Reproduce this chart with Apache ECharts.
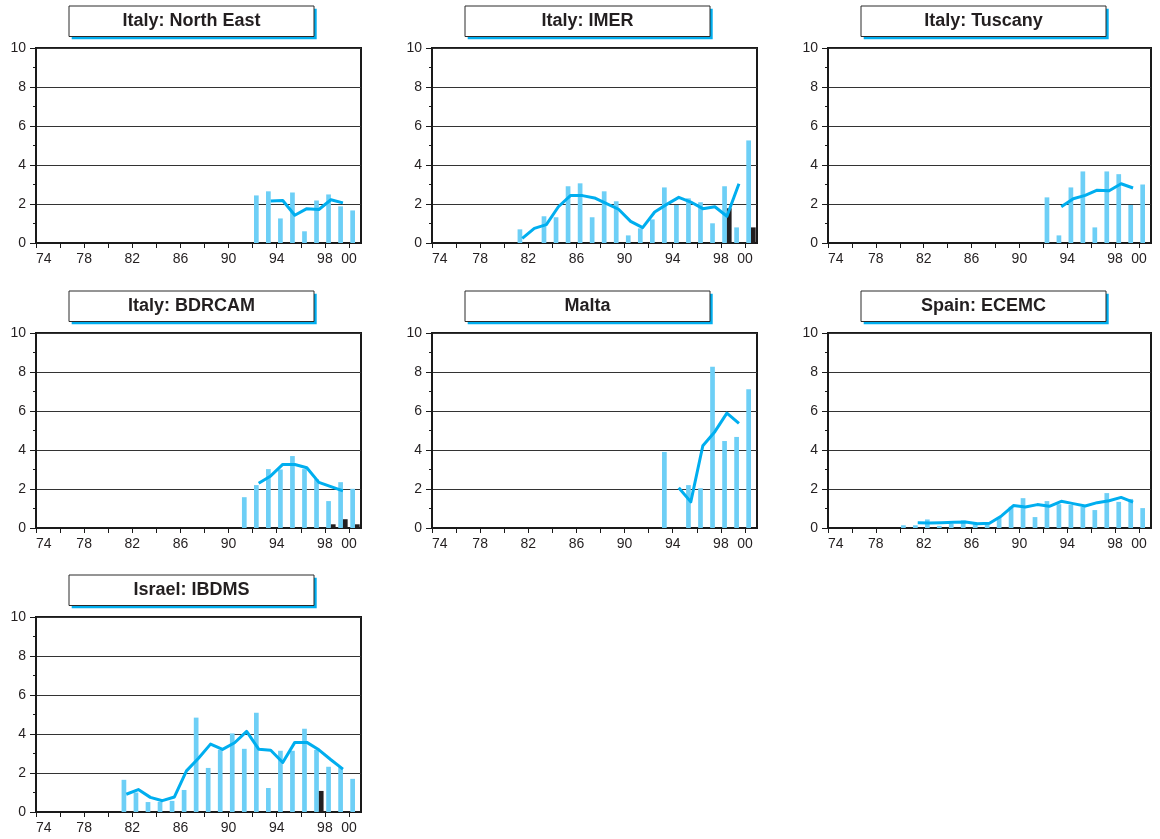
<!DOCTYPE html>
<html>
<head>
<meta charset="utf-8">
<style>
  html, body { margin: 0; padding: 0; background: #ffffff; }
  #chart { width: 1160px; height: 839px; }
</style>
<script src="https://cdn.jsdelivr.net/npm/echarts@6/dist/echarts.min.js"></script>
</head>
<body>
<div id="chart"></div>
<script>
// Calendar years covered by the registry series (index 0 = 1980)
const years = [1980, 1981, 1982, 1983, 1984, 1985, 1986, 1987, 1988, 1989, 1990,
               1991, 1992, 1993, 1994, 1995, 1996, 1997, 1998, 1999, 2000];

// Axis ticks and labels (two-digit years)
const tickYears = [1974, 1976, 1978, 1980, 1982, 1984, 1986, 1988, 1990, 1992, 1994, 1996, 1998, 2000];
const labelYears = [1974, 1978, 1982, 1986, 1990, 1994, 1998, 2000];
const rateTicks = [0, 2, 4, 6, 8, 10];

const panelTitles = ['Italy: North East', 'Italy: IMER', 'Italy: Tuscany',
                     'Italy: BDRCAM', 'Malta', 'Spain: ECEMC', 'Israel: IBDMS'];

// Italy: North East
const northEastRate = [null, null, null, null, null, null, null, null, null, null, null,
                       null, 2.44, 2.65, 1.26, 2.59, 0.60, 2.18, 2.49, 1.88, 1.67];
const northEastAvg  = [null, null, null, null, null, null, null, null, null, null, null,
                       null, null, 2.15, 2.18, 1.42, 1.76, 1.72, 2.22, 2.06, null];

// Italy: IMER
const imerRate = [null, 0.70, null, 1.37, 1.32, 2.91, 3.06, 1.32, 2.65, 2.14, 0.39,
                  0.75, 1.21, 2.85, 1.95, 2.29, 2.09, 1.01, 2.91, 0.80, 5.26];
const imerDark = [null, null, null, null, null, null, null, null, null, null, null,
                  null, null, null, null, null, null, null, 1.78, null, 0.80];
const imerAvg  = [null, 0.24, 0.75, 0.94, 1.86, 2.43, 2.43, 2.31, 2.02, 1.73, 1.11,
                  0.79, 1.59, 1.98, 2.34, 2.10, 1.76, 1.86, 1.37, 3.04, null];

// Italy: Tuscany
const tuscanyRate = [null, null, null, null, null, null, null, null, null, null, null,
                     null, 2.34, 0.39, 2.85, 3.67, 0.80, 3.67, 3.53, 1.95, 3.00];
const tuscanyAvg  = [null, null, null, null, null, null, null, null, null, null, null,
                     null, null, 1.86, 2.27, 2.44, 2.71, 2.68, 3.04, 2.82, null];

// Italy: BDRCAM
const bdrcamRate = [null, null, null, null, null, null, null, null, null, null, null,
                    1.58, 2.20, 3.02, 3.00, 3.69, 3.02, 2.50, 1.38, 2.35, 2.01];
const bdrcamDark = [null, null, null, null, null, null, null, null, null, null, null,
                    null, null, null, null, null, null, null, 0.19, 0.45, 0.19];
const bdrcamAvg  = [null, null, null, null, null, null, null, null, null, null, null,
                    null, 2.29, 2.67, 3.26, 3.26, 3.09, 2.34, 2.12, 1.90, null];

// Malta
const maltaRate = [null, null, null, null, null, null, null, null, null, null, null,
                   null, null, 3.90, null, 2.20, 2.04, 8.27, 4.46, 4.67, 7.11];
const maltaAvg  = [null, null, null, null, null, null, null, null, null, null, null,
                   null, null, null, 2.06, 1.34, 4.22, 4.94, 5.89, 5.36, null];

// Spain: ECEMC
const ecemcRate = [0.14, 0.14, 0.44, 0.11, 0.22, 0.39, 0.20, 0.20, 0.55, 1.09, 1.53,
                   0.56, 1.38, 1.22, 1.18, 1.08, 0.92, 1.79, 1.34, 1.49, 1.02];
const ecemcAvg  = [null, 0.27, 0.26, 0.27, 0.29, 0.31, 0.22, 0.24, 0.62, 1.15, 1.08,
                   1.20, 1.11, 1.37, 1.25, 1.13, 1.30, 1.40, 1.57, 1.33, null];

// Israel: IBDMS
const ibdmsRate = [null, 1.65, 1.00, 0.51, 0.52, 0.57, 1.13, 4.84, 2.26, 3.19, 4.03,
                   3.24, 5.09, 1.23, 3.14, 3.14, 4.27, 3.19, 2.32, 2.30, 1.70];
const ibdmsDark = [null, null, null, null, null, null, null, null, null, null, null,
                   null, null, null, null, null, null, 1.08, null, null, null];
const ibdmsAvg  = [null, 0.91, 1.15, 0.75, 0.58, 0.77, 2.11, 2.76, 3.48, 3.21, 3.55,
                   4.13, 3.22, 3.17, 2.54, 3.57, 3.57, 3.19, 2.68, 2.20, null];

const panelRates = [northEastRate, imerRate, tuscanyRate, bdrcamRate, maltaRate, ecemcRate, ibdmsRate];
const panelDark  = [[], imerDark, [], bdrcamDark, [], [], ibdmsDark];
const panelAvgs  = [northEastAvg, imerAvg, tuscanyAvg, bdrcamAvg, maltaAvg, ecemcAvg, ibdmsAvg];

// ---- layout & styling ----
const FONT = "'Liberation Sans', Arial, Helvetica, sans-serif";
const INK = '#231f20';
const BAR_BLUE = '#6dcff6';
const LINE_BLUE = '#00aeef';
const colLeft = [36, 432, 828];
const colWidth = [325, 325, 323];
const rowTop = [48, 333, 617];
const plotHeight = 195;

// Annual values are drawn at mid-year
function toPoints(values) {
  const pts = [];
  (values || []).forEach((v, i) => {
    if (v !== null && v !== undefined) pts.push([years[i] + 0.5, v]);
  });
  return pts;
}

const grids = [], xAxes = [], yAxes = [], series = [], graphics = [];

panelTitles.forEach((title, p) => {
  const col = p % 3, row = Math.floor(p / 3);
  const left = colLeft[col], top = rowTop[row], width = colWidth[col];

  grids.push({
    left: left, top: top, width: width, height: plotHeight,
    show: true, borderColor: '#1a1a1a', borderWidth: 2, backgroundColor: 'transparent'
  });

  xAxes.push({
    type: 'value', gridIndex: p, min: 1974, max: 2001,
    axisLine: { show: true, onZero: false, lineStyle: { color: '#1a1a1a', width: 2 } },
    axisTick: { show: true, length: 5, customValues: tickYears, lineStyle: { color: '#1a1a1a', width: 1 } },
    axisLabel: {
      customValues: labelYears, fontSize: 14, fontFamily: FONT, color: INK, margin: 9,
      alignMinLabel: 'left',
      formatter: v => String(Math.round(v) % 100).padStart(2, '0')
    },
    splitLine: { show: false }
  });

  yAxes.push({
    type: 'value', gridIndex: p, min: rateTicks[0], max: rateTicks[rateTicks.length - 1], interval: 2,
    axisLine: { show: true, lineStyle: { color: '#1a1a1a', width: 2 } },
    axisTick: { show: true, length: 6, lineStyle: { color: '#1a1a1a', width: 1 } },
    minorTick: { show: true, splitNumber: 2, length: 3, lineStyle: { color: '#1a1a1a', width: 1 } },
    axisLabel: { fontSize: 14, fontFamily: FONT, color: INK, margin: 10 },
    splitLine: { show: true, lineStyle: { color: '#333333', width: 1.2 } }
  });

  series.push({
    type: 'bar', xAxisIndex: p, yAxisIndex: p, barWidth: 4.7,
    itemStyle: { color: BAR_BLUE }, data: toPoints(panelRates[p]), z: 2
  });
  series.push({
    type: 'bar', xAxisIndex: p, yAxisIndex: p, barWidth: 4.7, barGap: '0%',
    itemStyle: { color: INK }, data: toPoints(panelDark[p]), z: 2
  });
  series.push({
    type: 'line', xAxisIndex: p, yAxisIndex: p, showSymbol: false, symbol: 'none',
    lineStyle: { color: LINE_BLUE, width: 3, join: 'round' }, data: toPoints(panelAvgs[p]), z: 3
  });

  // title box with offset blue shadow
  const bx = left + 33, by = top - 42, bw = 245, bh = 30.5;
  graphics.push(
    { type: 'rect', silent: true, shape: { x: bx + 2.7, y: by + 2.7, width: bw, height: bh }, style: { fill: LINE_BLUE } },
    { type: 'rect', silent: true, shape: { x: bx, y: by, width: bw, height: bh }, style: { fill: '#ffffff', stroke: '#2a2a2a', lineWidth: 1 } },
    { type: 'text', silent: true, x: bx + bw / 2, y: by + bh / 2,
      style: { text: title, fill: INK, font: 'bold 18px ' + FONT, align: 'center', verticalAlign: 'middle' } }
  );
});

const chart = echarts.init(document.getElementById('chart'), null, { renderer: 'canvas' });
chart.setOption({
  animation: false,
  backgroundColor: '#ffffff',
  grid: grids,
  xAxis: xAxes,
  yAxis: yAxes,
  series: series,
  graphic: graphics
});
</script>
</body>
</html>
